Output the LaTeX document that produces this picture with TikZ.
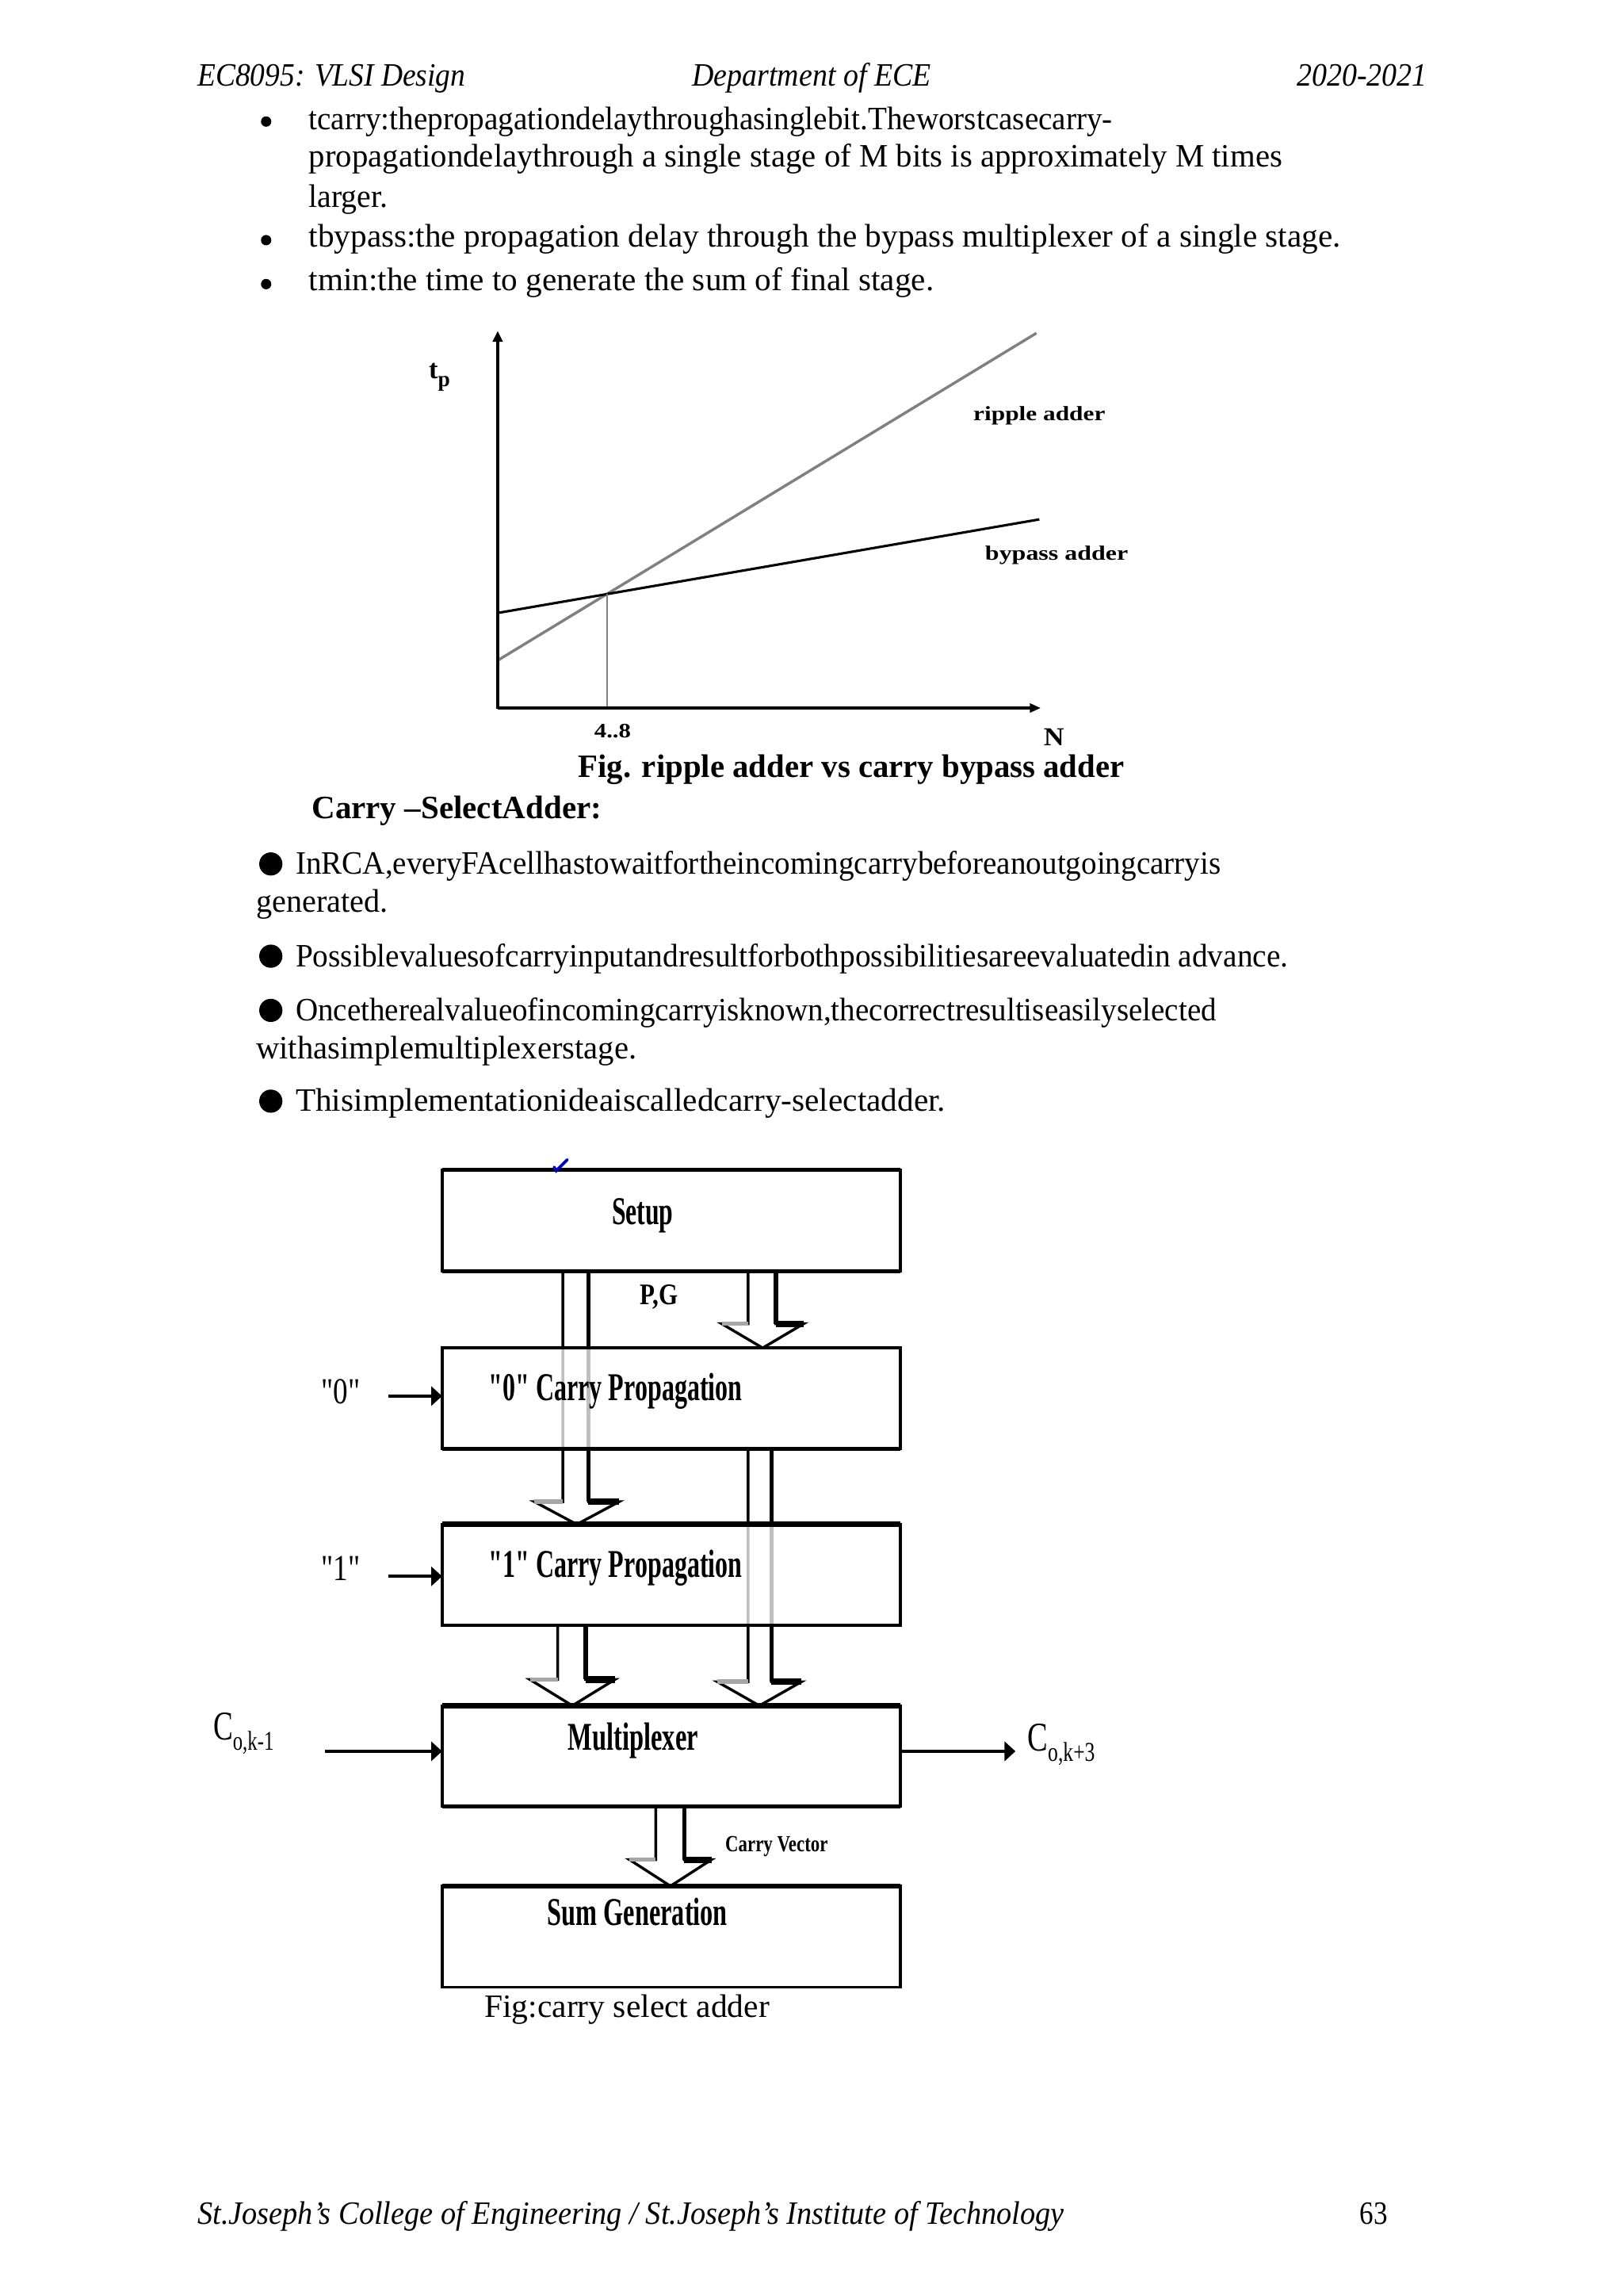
\documentclass[tikz,border=0pt]{standalone}
\usepackage{fontspec}
\setmainfont{Liberation Serif}
\usepackage{graphicx}
\usetikzlibrary{arrows.meta,calc}
\newsavebox\fitbox
\newcommand\fitw[2]{\sbox\fitbox{#2}\pgfmathsetmacro\fitr{(#1)*0.5388/\the\wd\fitbox}\scalebox{\fitr}[1]{\usebox\fitbox}}
\newcommand\qd{\textquotedbl}
\newcommand\blockarr[7]{%
 \draw[line width=1bp,fill=white,line join=miter] let \p1=(#1,0),\p2=(#2,0),\p3=(#3,0),\p4=(#4,0),\p5=(0,#5),\p6=(#6.south),\p7=(#7.north) in
  (\x1,\y6) -- (\x1,\y5) -- (\x3,\y5) -- ({0.5*\x3+0.5*\x4},\y7) -- (\x4,\y5) -- (\x2,\y5) -- (\x2,\y6);
 \draw[line width=2.4bp] let \p2=(#2,0),\p4=(#4,0),\p5=(0,#5) in (\x2,\y5) -- (\x4,\y5);
 \draw[gray!70,line width=1.6bp] let \p1=(#1,0),\p3=(#3,0),\p5=(0,#5) in (\x3,\y5) -- (\x1,\y5);
 \draw[line width=1.6bp] let \p2=(#2,0),\p5=(0,#5),\p6=(#6.south) in (\x2,\y6) -- (\x2,\y5);
}
\begin{document}
\begin{tikzpicture}[x=0.5368bp,y=-0.5368bp,
  txt/.style={anchor=base west,inner sep=0pt,outer sep=0pt},
  body/.style={txt,font=\fontsize{12}{14}\selectfont},
  bodyb/.style={txt,font=\fontsize{12}{14}\selectfont\bfseries},
  hdr/.style={txt,font=\fontsize{12}{14}\selectfont\itshape},
  boxlbl/.style={txt,font=\fontsize{14.5}{16}\selectfont\bfseries},
  glbl/.style={txt,font=\fontsize{7.5}{9}\selectfont\bfseries},
  blk/.style={draw=black,line width=1bp,fill=white,fill opacity=0.75,text opacity=1,minimum width=168bp,minimum height=37bp,inner sep=0pt,outer sep=0pt},
  inarr/.style={line width=1.3bp,-{Triangle[length=4bp,width=7bp]}},
  yaxis/.style={line width=1.4bp,-{Triangle[length=4bp,width=3.6bp]}},
  xaxis/.style={line width=1bp,-{Triangle[length=4bp,width=3.2bp]}},
  dot/.style={circle,fill=black,inner sep=0pt}]
\fill[white] (0,0) rectangle (1109,1568);
\useasboundingbox (0,0) rectangle (1109,1568);

% header
\node[hdr] (hdrA) at (135,58.5) {\fitw{183}{EC8095: VLSI Design}};
\node[hdr] (hdrB) at (473,58.5) {\fitw{163}{Department of ECE}};
\node[hdr] (hdrC) at (886,58.5) {\fitw{89}{2020-2021}};

% top bullets
\node[dot,minimum size=3.8bp] (b1) at (181.8,83) {};
\node[dot,minimum size=3.8bp] (b2) at (181.8,164) {};
\node[dot,minimum size=3.8bp] (b3) at (181.8,194) {};
\node[body] (t1a) at (211,88.4) {\fitw{549}{tcarry:thepropagationdelaythroughasinglebit.Theworstcasecarry-}};
\node[body] (t1b) at (211,113.7) {\fitw{665}{propagationdelaythrough a single stage of M bits is approximately M times}};
\node[body] (t1c) at (211,141.7) {\fitw{54}{larger.}};
\node[body] (t2) at (211,168.8) {\fitw{705}{tbypass:the propagation delay through the bypass multiplexer of a single stage.}};
\node[body] (t3) at (211,198.5) {\fitw{427}{tmin:the time to generate the sum of final stage.}};

% graph
\coordinate (O) at (340,483.5);
\coordinate (Ytop) at (340,226);
\coordinate (Ybot) at (340,484.3);
\coordinate (Xend) at (711,483.5);
\coordinate (R0) at (340,451);
\coordinate (R1) at (708,227.5);
\coordinate (B0) at (340,418.6);
\coordinate (B1) at (710,354.7);
\coordinate (X48) at (414.8,405.6);
\draw[gray,line width=1bp] (R0) -- (R1);
\draw[line width=0.9bp] (B0) -- (B1);
\draw[gray,line width=0.8bp] (X48) -- (X48 |- O);
\draw[xaxis] (O) -- (Xend);
\draw[yaxis] (Ybot) -- (Ytop);
\node[txt,font=\fontsize{10}{12}\selectfont\bfseries] (tp) at (293,258.5) {t\raisebox{-3bp}{\fontsize{8}{9}\selectfont p}};
\node[glbl] (ripl) at (665,287) {\fitw{90}{ripple adder}};
\node[glbl] (bypl) at (673,382.5) {\fitw{97.6}{bypass adder}};
\node[glbl] (x48) at (406,504) {\fitw{25}{4..8}};
\node[txt,font=\fontsize{9.5}{11}\selectfont\bfseries] (Nl) at (713,509) {\fitw{14}{N}};

% captions
\node[bodyb] (cap1) at (395,531) {\fitw{373}{Fig. ripple adder vs carry bypass adder}};
\node[bodyb] (csa) at (213,559) {\fitw{198}{Carry --SelectAdder:}};

% second bullets
\node[dot,minimum size=8.5bp] (c1) at (185,590) {};
\node[dot,minimum size=8.5bp] (c2) at (185,653) {};
\node[dot,minimum size=8.5bp] (c3) at (185,690) {};
\node[dot,minimum size=8.5bp] (c4) at (185,752) {};
\node[body] (s1a) at (202,597) {\fitw{632}{InRCA,everyFAcellhastowaitfortheincomingcarrybeforeanoutgoingcarryis}};
\node[body] (s1b) at (175,623) {\fitw{90}{generated.}};
\node[body] (s2) at (202,660) {\fitw{678}{Possiblevaluesofcarryinputandresultforbothpossibilitiesareevaluatedin advance.}};
\node[body] (s3a) at (202,697) {\fitw{629}{Oncetherealvalueofincomingcarryisknown,thecorrectresultiseasilyselected}};
\node[body] (s3b) at (175,723) {\fitw{260}{withasimplemultiplexerstage.}};
\node[body] (s4) at (202,759) {\fitw{444}{Thisimplementationideaiscalledcarry-selectadder.}};

% block diagram box positions
\path (458.5,833.5) node[minimum width=168bp,minimum height=37bp,inner sep=0pt,outer sep=0pt] (setup) {}
      (458.5,955) node[minimum width=168bp,minimum height=37bp,inner sep=0pt,outer sep=0pt] (p0) {}
      (458.5,1075.5) node[minimum width=168bp,minimum height=37bp,inner sep=0pt,outer sep=0pt] (p1) {}
      (458.5,1199.3) node[minimum width=168bp,minimum height=37bp,inner sep=0pt,outer sep=0pt] (mux) {}
      (458.5,1322.5) node[minimum width=168bp,minimum height=37bp,inner sep=0pt,outer sep=0pt] (sum) {};

% block arrows
\blockarr{384.5}{402}{365}{423}{1025.5}{setup}{p1}
\blockarr{511}{530}{493}{549}{904}{setup}{p0}
\blockarr{511}{527}{490}{547.5}{1148.5}{p0}{mux}
\blockarr{381}{400}{362}{420}{1147}{p1}{mux}
\blockarr{448}{467.5}{430}{486}{1270}{mux}{sum}

% boxes
\node[blk] (setupB) at (setup) {};
\node[blk] (p0B) at (p0) {};
\node[blk] (p1B) at (p1) {};
\node[blk] (muxB) at (mux) {};
\node[blk] (sumB) at (sum) {};
\draw[line width=1.5bp] (setupB.north west) -- (setupB.north east);
\draw[line width=1.5bp] (setupB.south west) -- (setupB.south east);
\draw[line width=1.6bp] (p0B.south west) -- (p0B.south east);
\draw[line width=1.9bp] (p1B.north west) -- (p1B.north east);
\draw[line width=2bp] (muxB.north west) -- (muxB.north east);
\draw[line width=1.5bp] (muxB.south west) -- (muxB.south east);
\draw[line width=1.9bp] (sumB.north west) -- (sumB.north east);

% tick mark
\draw[blue!75!black,line width=1.1bp,line cap=round] (378.5,797) -- (380,799.5) -- (387.5,792);

% box labels
\node[boxlbl] (lsetup) at (418,836) {\fitw{42}{Setup}};
\node[boxlbl] (lp0) at (334,956.7) {\fitw{173}{\qd0\qd\ Carry Propagation}};
\node[boxlbl] (lp1) at (334,1077.2) {\fitw{173}{\qd1\qd\ Carry Propagation}};
\node[boxlbl] (lmux) at (388,1195.4) {\fitw{89}{Multiplexer}};
\node[boxlbl] (lsum) at (374,1314.8) {\fitw{123}{Sum Generation}};
\node[txt,font=\fontsize{11}{12}\selectfont\bfseries] (pg) at (437,891) {\fitw{26}{P,G}};
\node[txt,font=\fontsize{8.5}{10}\selectfont\bfseries] (cv) at (495.5,1264.5) {\fitw{70}{Carry Vector}};

% side inputs
\node[txt,font=\fontsize{13.5}{15}\selectfont] (q0) at (219.7,958.5) {\fitw{26.5}{\qd0\qd}};
\node[txt,font=\fontsize{13.5}{15}\selectfont] (q1) at (219.7,1079.5) {\fitw{26.5}{\qd1\qd}};
\coordinate (in0) at (265.5,953.4);
\coordinate (in1) at (265.5,1076.5);
\coordinate (cin) at (222,1196);
\coordinate (coutE) at (693.7,1196);
\draw[inarr] (in0) -- (in0 -| p0B.west);
\draw[inarr] (in1) -- (in1 -| p1B.west);
\draw[inarr] (cin) -- (cin -| muxB.west);
\draw[inarr] (coutE -| muxB.east) -- (coutE);
\node[txt,font=\fontsize{15}{17}\selectfont] (cinl) at (145.7,1188) {\fitw{41.3}{C\raisebox{-4bp}{\fontsize{10}{11}\selectfont o,k-1}}};
\node[txt,font=\fontsize{15}{17}\selectfont] (coutl) at (702,1195.6) {\fitw{46}{C\raisebox{-4bp}{\fontsize{10}{11}\selectfont o,k+3}}};

\node[body] (cap2) at (331,1377.5) {\fitw{194.7}{Fig:carry select adder}};

% footer
\node[hdr] (ftr) at (135,1519) {\fitw{592}{St.Joseph’s College of Engineering / St.Joseph’s Institute of Technology}};
\node[body] (pgno) at (929,1519) {\fitw{19}{63}};
\end{tikzpicture}
\end{document}
